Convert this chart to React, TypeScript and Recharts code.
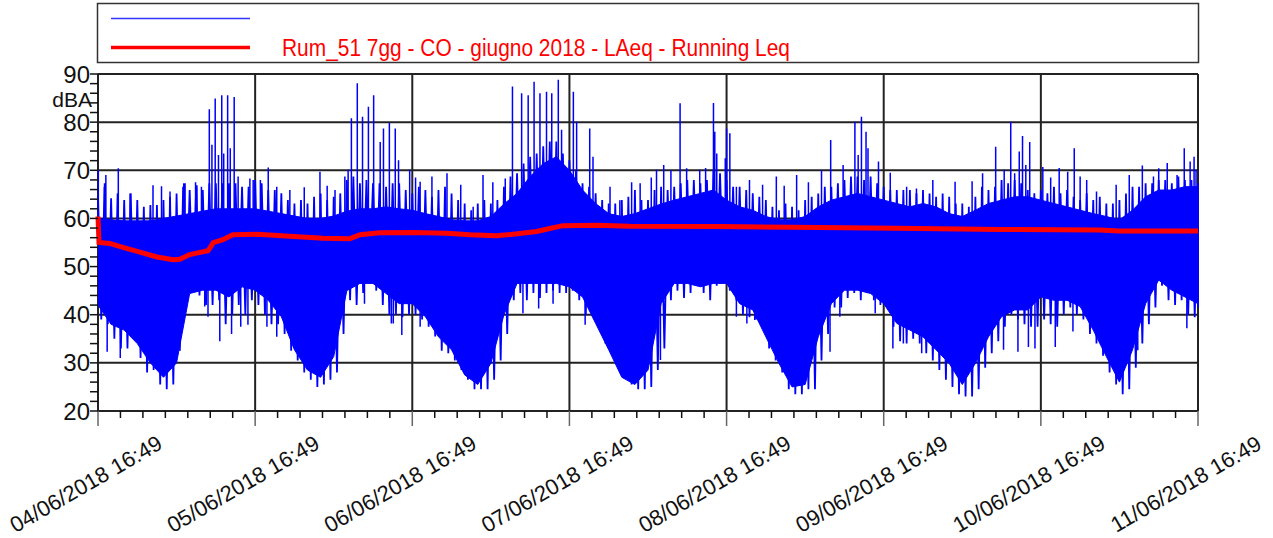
import { ComposedChart, Area, Line, XAxis, YAxis, CartesianGrid } from "recharts";

const FONT = '"Liberation Sans", Arial, sans-serif';

// tick labels, one per day (hours 0, 24, ... 168 from start)
const dayLabels = [
  "04/06/2018 16:49",
  "05/06/2018 16:49",
  "06/06/2018 16:49",
  "07/06/2018 16:49",
  "08/06/2018 16:49",
  "09/06/2018 16:49",
  "10/06/2018 16:49",
  "11/06/2018 16:49",
];
const yLabels = [20, 30, 40, 50, 60, 70, 80, 90];

// LAeq short: dense core of the trace, every 2 hours (hour 0, 2 .. 168)
const coreLow = [
  42, 38, 36.8, 34, 30, 27, 30, 44.4, 45.1, 45.1,
  43.7, 45.8, 45.1, 43, 39.6, 32.7, 28.5, 27, 31.3, 45,
  46.5, 46.5, 44.4, 42.3, 42.3, 39.6, 35.4, 32.7, 27.5, 25.5,
  29.9, 40, 46.5, 46.5, 46.5, 46.5, 45.8, 43.7, 38.2, 32.7,
  27, 25.5, 28.5, 42.3, 46.5, 46.5, 45.8, 46.5, 46.5, 42.3,
  41, 35.4, 29.9, 25, 25.5, 35.4, 42.3, 45.1, 45.1, 44.4,
  42.3, 38.2, 36.8, 35.4, 32.7, 29.9, 25.5, 29.9, 35.4, 39.6,
  41, 41, 43.7, 43, 43, 41.7, 36.8, 31.3, 26, 32.7,
  42.3, 47.2, 45.1, 43.7, 42.3,
];
const coreHigh = [
  60, 59.7, 59.5, 59.5, 59.5, 60, 60.5, 61, 61.5, 62,
  62, 62, 62, 61.5, 61, 60.5, 60, 60, 60.5, 61.5,
  62, 62, 62.4, 62, 61.7, 61, 60.4, 59.7, 59.5, 59.5,
  60.4, 63, 65.2, 68.7, 71.4, 72.8, 70, 65.9, 63.1, 61,
  60.4, 61, 62, 63, 63.8, 64.5, 65.2, 65.9, 63.8, 62.4,
  61.7, 60.4, 59.7, 59.7, 60.4, 62.4, 63.8, 64.5, 65.2, 64.5,
  63.8, 63.1, 62.4, 63.1, 62.4, 61, 60.4, 61.7, 63.1, 63.8,
  64.5, 64.5, 63.8, 63.1, 62.4, 61.7, 61, 60.4, 59.7, 61.7,
  64.5, 65.9, 65.9, 66.6, 66.6,
];

// LAeq short: hourly extremes of the fuzzy fringe (hour 0 .. 168)
const laeqLow = [
  39, 38, 35, 33, 33, 35, 31, 28, 28.5, 25.5,
  24.5, 25.5, 32.5, 43, 45, 44, 42, 42, 43, 38,
  40, 42, 40, 43, 42, 40, 38, 38, 36, 32.5,
  30.5, 28, 26.5, 25, 25.5, 26.5, 28, 36, 43, 42,
  44.5, 48, 45, 42, 40, 40, 39.5, 40, 40, 39,
  37.5, 35.5, 32.5, 32, 30.5, 28.5, 26.5, 24.5, 24.5, 24.5,
  26.5, 30.5, 36, 43, 44.5, 43, 44.5, 43.5, 44.5, 45,
  44.5, 44.5, 45, 43, 40, 42, 39, 34, 32, 29,
  27, 25.5, 24.5, 24.5, 25, 28.5, 33, 43, 45, 43.5,
  44.5, 46, 44.5, 43, 46, 47, 45, 43, 40, 39.5,
  39, 37.5, 33, 30.5, 28, 24.5, 23.5, 23.5, 24.5, 24.5,
  30.5, 36, 41.5, 41.5, 43.5, 44.5, 43, 44.5, 43, 42,
  41.5, 37.5, 34.5, 34, 35, 34, 32, 30.5, 28.5, 26.5,
  25, 23.5, 23, 23, 24.5, 29, 32, 34.5, 37.5, 40,
  39, 38, 37.5, 37.5, 39, 38, 37.5, 40, 41.5, 40,
  39, 36, 34, 31.5, 28, 25.5, 23.5, 24.5, 29, 34,
  38, 41.5, 46, 43, 42, 43, 40, 39.5, 41.5,
];
const laeqHigh = [
  64.5, 66.6, 64.2, 65.2, 63.8, 65.2, 63.8, 62.4, 62.8, 62.8,
  63.8, 64.5, 65.2, 66.6, 65.9, 66.6, 65.9, 67.3, 67.3, 67.3,
  67.3, 67.3, 66.6, 66.6, 68, 67.3, 65.9, 65.9, 65.2, 63.8,
  63.1, 63.8, 63.1, 64.5, 65.2, 63.8, 64.5, 65.2, 68, 68.7,
  67.3, 68, 67.3, 67.3, 66.6, 67.3, 67.3, 65.9, 65.2, 66.6,
  65.9, 64.5, 65.9, 66.6, 65.2, 63.8, 63.1, 61.7, 63.1, 63.8,
  63.1, 63.8, 66.6, 68.7, 69.4, 71.4, 72.8, 73.5, 75, 76,
  76, 73.5, 72.1, 70, 67.3, 66.6, 65.2, 63.8, 63.1, 63.1,
  63.8, 64.5, 65.9, 63.8, 63.8, 65.9, 66.6, 65.9, 66.6, 67.3,
  68, 68, 67.3, 68, 70, 69.4, 68, 66.6, 66.6, 65.9,
  65.2, 64.5, 63.8, 62.4, 61.7, 63.1, 62.4, 61.7, 63.8, 64.5,
  65.2, 66.6, 66.6, 67.3, 68, 68.7, 68.7, 68, 68.7, 67.3,
  66.6, 65.9, 65.9, 65.9, 65.9, 65.2, 65.9, 65.2, 64.5, 65.2,
  64.5, 63.1, 63.1, 62.4, 64.5, 66.6, 65.9, 66.6, 68, 67.3,
  68, 67.3, 65.9, 65.2, 65.9, 65.2, 66.6, 65.2, 65.9, 64.5,
  63.8, 65.2, 63.8, 64.5, 63.1, 63.1, 63.8, 65.2, 66.6, 66.6,
  67.3, 67.3, 68, 68, 67.3, 68.7, 68, 68, 67.3,
];

// isolated peaks and dips of LAeq (hour, dB)
const peakT = [
  0.05, 1, 1.2, 3.1, 4.9, 8.4, 9.7, 11, 13.1, 13.3, 14.9, 15.1, 15.8, 17, 17.4, 17.9, 18.4, 18.9, 19.2, 19.8,
  20.2, 20.8, 21.4, 23.2, 23.7, 24.8, 26, 27.3, 29.3, 31.5, 33.9, 35, 36.2, 37.7, 38.2, 38.7, 39.6, 40.4, 41.3, 42.1,
  43.1, 43.6, 44.5, 45.4, 45.9, 47.6, 48.5, 49.2, 51, 53.3, 55.4, 57.3, 58.8, 60.3, 62.2, 63.3, 64.7, 65.7, 66.6, 67.5,
  68.5, 69.3, 70.3, 70.8, 72.6, 73.1, 75.1, 75.6, 78.2, 79.7, 81.5, 82.8, 84.5, 85.3, 86.4, 87.5, 88.9, 89.9, 91.9, 92.8,
  94, 94.2, 94.5, 95.8, 96, 96.5, 97.5, 99.5, 101.5, 103.6, 104.8, 106.7, 108.5, 110.5, 111.9, 113.8, 115.6, 116.1, 116.6, 117.3,
  117.6, 119.2, 121, 123.5, 125, 127.5, 130.9, 133.5, 135.1, 137.1, 138.4, 139.4, 140, 140.7, 141.2, 141.7, 142.3, 144.3, 145.5, 146.8,
  148.1, 149.1, 150, 151, 152.5, 155.5, 157.5, 159.5, 161.2, 162, 163.3, 164.8, 165.9, 166.8, 167.4, 167.7,
];
const peakV = [
  70, 67.3, 69, 70.4, 65.2, 66.9, 66.7, 65.6, 67.3, 67.3, 67.5, 66.9, 66.6, 82.7, 75.3, 84.9, 73.2, 85.6, 73.5, 85.6,
  74.6, 85.2, 68.7, 68.3, 68, 68, 70.6, 66.6, 65.9, 66.5, 69.7, 66.8, 65.9, 68.7, 70.1, 80.8, 88.1, 81.1, 83.2, 85.6,
  75.9, 78.7, 79.8, 78.7, 72.1, 70.1, 68.5, 67.6, 68.7, 69.4, 67, 62.4, 69, 67.5, 68.3, 87.4, 86, 85.6, 88.4, 86,
  86.3, 86, 88.8, 78.4, 86.3, 80.1, 78.7, 72.8, 66.6, 63.8, 67.5, 67.3, 68.5, 70.1, 71.1, 70, 83.9, 70.4, 70.1, 70.5,
  84, 78, 73.5, 72.5, 78.7, 77.7, 66.6, 68, 67, 68.7, 66.8, 69, 67.5, 70, 76.3, 71.1, 80.1, 73.2, 81.1, 78,
  74.6, 71.8, 69.5, 66.6, 66.2, 68, 67.6, 67.7, 69.4, 74.9, 70.1, 80.1, 69.4, 73.9, 77.1, 71.1, 75.9, 70.7, 68.5, 70.5,
  69.7, 74.6, 68.7, 68, 65.6, 67, 69, 71, 68.7, 70.4, 71.5, 69, 74.6, 71.8, 72.8, 70.1,
];
const dipT = [
  1.4, 3.4, 16.3, 16.8, 18.6, 20.4, 21.8, 22.9, 25.8, 26.5, 27.3, 40.7, 44.8, 45.1, 46.4, 49.2, 64.9, 67.3, 69.5, 74.4,
  85.9, 97.5, 99.1, 100.3, 111.8, 113.3, 118.7, 121.4, 123, 125.8, 138.3, 140.5, 142.1, 143.1, 146.2, 148.9, 158.8, 166.3,
];
const dipV = [
  32.3, 31, 41.7, 39.6, 34.5, 36, 37.5, 37.9, 37.5, 41, 35.4, 42.3, 38.2, 38.2, 35.8, 37.5, 40.3, 41.3, 42.3, 37.9,
  30.6, 39.6, 38.2, 38.9, 32.3, 39.6, 40.3, 33, 34, 32, 32.7, 32.3, 33.3, 33, 33.3, 36.5, 32.6, 37.2,
];

// Running Leq (hour, dB)
const leqT = [
  0, 0.15, 1.8, 3.8, 6.4, 9, 11.5, 12.5, 14, 16.8, 17.3, 17.6, 19.1, 20.6, 24.3, 29.3, 34.4, 38.5, 40, 43,
  48.1, 53.3, 56.8, 60.9, 64, 67, 69, 71, 76.2, 81.2, 95, 110, 125.5, 137.7, 153, 156, 168,
];
const leqV = [
  60.4, 55, 54.8, 54, 53, 52, 51.4, 51.5, 52.5, 53.3, 54.3, 55, 55.6, 56.6, 56.7, 56.3, 55.9, 55.8, 56.6, 57,
  57.1, 56.9, 56.6, 56.4, 56.8, 57.3, 57.9, 58.5, 58.6, 58.4, 58.3, 58.1, 57.9, 57.7, 57.6, 57.4, 57.4,
];

const SPIKE_BASE = 55;

const coreData = coreLow.map((lo, i) => ({ t: i * 2, band: [lo, coreHigh[i]] }));
// hourly max at the hour, hourly min half an hour later -> fuzzy fringe
const fringeData = laeqHigh.flatMap((hi, i) =>
  i < laeqHigh.length - 1
    ? [
        { t: i, v: hi },
        { t: i + 0.5, v: laeqLow[i] },
      ]
    : [
        { t: i, v: hi },
        { t: i, v: laeqLow[i] },
      ]
);
const spikeData = [
  ...peakT.map((t, i) => [t, peakV[i]]),
  ...dipT.map((t, i) => [t, dipV[i]]),
]
  .sort((a, b) => a[0] - b[0])
  .flatMap(([t, v]) => [
    { t, v: SPIKE_BASE },
    { t, v },
    { t, v: SPIKE_BASE },
  ]);
const leqData = leqT.map((t, i) => ({ t, v: leqV[i] }));

const xTicks = Array.from({ length: 50 }, (_, i) => (i * 24) / 7);
const yTicks = Array.from({ length: 36 }, (_, i) => 20 + i * 2);

const XTick = (props: any) => {
  const { x, y, payload } = props;
  const i = Math.round((payload.value * 7) / 24);
  const major = i % 7 === 0;
  const cx = x - 12;
  const cy = y + 73;
  return (
    <g>
      <line x1={x} x2={x} y1={y} y2={y + (major ? 15 : 7)} stroke={major ? "#666" : "#111"} strokeWidth={1.5} />
      {major && (
        <text
          x={cx}
          y={cy}
          transform={`rotate(-30, ${cx}, ${cy})`}
          textAnchor="middle"
          dominantBaseline="central"
          fontSize={22}
          fontFamily={FONT}
          fill="#111"
        >
          {dayLabels[i / 7]}
        </text>
      )}
    </g>
  );
};

const YTick = (props: any) => {
  const { x, y, payload } = props;
  const v = payload.value;
  return (
    <g>
      <line x1={x - 8} x2={x} y1={y} y2={y} stroke="#111" strokeWidth={1.5} />
      {yLabels.includes(v) && (
        <text x={x - 8} y={y} textAnchor="end" dominantBaseline="central" fontSize={24} fontFamily={FONT} fill="#111">
          {v}
        </text>
      )}
      {v === 90 && (
        <text x={x - 6} y={y + 25} textAnchor="end" dominantBaseline="central" fontSize={21} fontFamily={FONT} fill="#111">
          dBA
        </text>
      )}
    </g>
  );
};

const LegendBox = () => (
  <svg width={1273} height={70} style={{ position: "absolute", left: 0, top: 0, pointerEvents: "none" }}>
    <rect x={97.5} y={3.5} width={1101} height={59} fill="none" stroke="#333" strokeWidth={1.5} />
    <line x1={111} x2={250} y1={18.5} y2={18.5} stroke="#3333ff" strokeWidth={1.5} />
    <line x1={111} x2={250} y1={47.5} y2={47.5} stroke="#ff0000" strokeWidth={3.5} />
    <text x={282} y={56} fill="#ff0000" fontSize={23} fontFamily={FONT} textLength={508} lengthAdjust="spacingAndGlyphs">
      Rum_51 7gg - CO - giugno 2018 - LAeq - Running Leq
    </text>
  </svg>
);

export default function App() {
  return (
    <div style={{ position: "absolute", left: 0, top: 0, width: 1273, height: 538, background: "#fff" }}>
      <ComposedChart width={1273} height={538} data={coreData} margin={{ top: 74, right: 75, bottom: 0, left: 0 }}>
        <CartesianGrid
          stroke="#222"
          strokeWidth={2}
          horizontalValues={yLabels}
          verticalValues={[0, 24, 48, 72, 96, 120, 144, 168]}
        />
        <XAxis
          type="number"
          dataKey="t"
          domain={[0, 168]}
          ticks={xTicks}
          interval={0}
          height={127}
          tickSize={0}
          tickMargin={0}
          axisLine={false}
          tickLine={false}
          tick={<XTick />}
        />
        <YAxis
          type="number"
          domain={[20, 90]}
          ticks={yTicks}
          interval={0}
          width={98}
          tickSize={0}
          tickMargin={0}
          axisLine={false}
          tickLine={false}
          tick={<YTick />}
        />
        <Area
          type="linear"
          dataKey="band"
          stroke="#0000ff"
          strokeWidth={1}
          fill="#0000ff"
          fillOpacity={1}
          isAnimationActive={false}
        />
        <Line
          data={fringeData}
          type="linear"
          dataKey="v"
          stroke="#0000ff"
          strokeWidth={1.8}
          dot={false}
          isAnimationActive={false}
        />
        <Line
          data={spikeData}
          type="linear"
          dataKey="v"
          stroke="#0000ff"
          strokeWidth={1.5}
          dot={false}
          isAnimationActive={false}
        />
        <Line
          data={leqData}
          type="linear"
          dataKey="v"
          stroke="#ff0000"
          strokeWidth={5}
          dot={false}
          isAnimationActive={false}
        />
      </ComposedChart>
      <LegendBox />
    </div>
  );
}
